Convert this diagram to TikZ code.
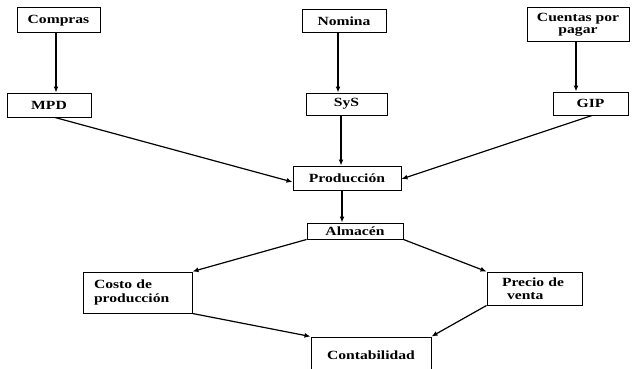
\documentclass[tikz,border=0pt]{standalone}
\usepackage{fontspec}
\setmainfont{Liberation Serif}[FakeStretch=1.25, BoldFeatures={FakeStretch=1.25}]
\usetikzlibrary{arrows.meta}

\begin{document}
\begin{tikzpicture}[x=1pt, y=-1pt,
  box/.style={draw, line width=1pt, inner sep=0pt, align=center,
              font=\bfseries\fontsize{12.5}{13.5}\selectfont},
  flow/.style={line width=1.2pt, -{Latex[length=6pt,width=5pt]}}]
\useasboundingbox (0,0) rectangle (634,369);
\clip (0,0) rectangle (634,369);

% sources
\node[box, minimum width=83pt, minimum height=25pt] (compras) at (58.5,20.5) {Compras};
\node[box, minimum width=84pt, minimum height=23pt] (nomina) at (344,21.5) {Nomina};
\node[box, minimum width=102pt, minimum height=34pt] (cxp) at (578,25)
  {\raisebox{-3pt}{\begin{tabular}{@{}c@{}}Cuentas por\\[-1pt]pagar\end{tabular}}};

% cost elements
\node[box, minimum width=84pt, minimum height=24pt] (mpd) at (49,105) {MPD};
\node[box, minimum width=81pt, minimum height=22pt] (sys) at (346.5,104) {SyS};
\node[box, minimum width=75pt, minimum height=23pt] (gip) at (590.5,103.5) {GIP};

% production and storage
\node[box, minimum width=108pt, minimum height=24pt] (prod) at (347,178) {Producción};
\node[box, minimum width=96pt, minimum height=16pt] (alm) at (355,231) {Almacén};

% outputs
\node[box, align=left, inner xsep=11pt, text width=87pt, minimum height=41pt] (costo)
  at (137.5,292.5) {Costo de\\producción};
\node[box, align=left, inner xsep=15pt, text width=65pt, minimum height=33pt] (precio)
  at (534.5,288.5) {Precio de\\\hspace*{5pt}venta};
\node[box, minimum width=120pt, minimum height=36pt] (conta) at (371,355) {Contabilidad};

% connectors
\draw[flow] ([xshift=-2.5pt]compras.south) -- ([xshift=-2.5pt]compras.south |- mpd.north);
\draw[flow] ([xshift=-6pt]nomina.south) -- ([xshift=-6pt]nomina.south |- sys.north);
\draw[flow] ([xshift=-2pt]cxp.south) -- ([xshift=-2pt]cxp.south |- gip.north);
\draw[flow] ([xshift=6pt]mpd.south) -- ([yshift=-4pt]prod.west);
\draw[flow] ([xshift=-5.5pt]sys.south) -- ([xshift=-5.5pt]sys.south |- prod.north);
\draw[flow] ([xshift=1.5pt]gip.south) -- ([yshift=-1pt]prod.east);
\draw[flow] ([xshift=-5pt]prod.south) -- ([xshift=-5pt]prod.south |- alm.north);
\draw[flow] (alm.south west) -- (costo.north east);
\draw[flow] (alm.south east) -- (precio.north west);
\draw[flow] (costo.south east) -- (conta.north west);
\draw[flow] (precio.south west) -- (conta.north east);
\end{tikzpicture}
\end{document}
